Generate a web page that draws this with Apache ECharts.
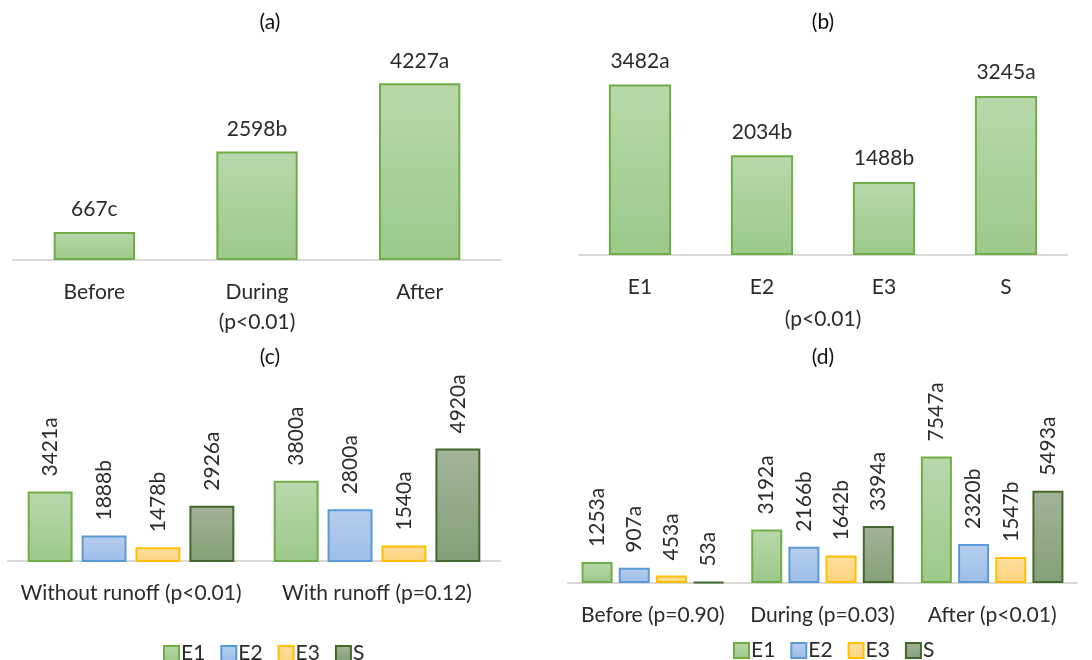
<!DOCTYPE html>
<html>
<head>
<meta charset="utf-8">
<script src="https://cdn.jsdelivr.net/npm/echarts@6/dist/echarts.min.js"></script>
<style>
  html, body { margin: 0; padding: 0; background: #fff; }
  #chart { width: 1092px; height: 660px; }
</style>
</head>
<body>
<div id="chart"></div>
<script>
// (a) period totals
var periods = ["Before", "During\n(p<0.01)", "After"];
var periodValues = [667, 2598, 4227];
var periodLetters = ["c", "b", "a"];

// (b) treatment totals
var treatments = ["E1", "E2", "E3", "S"];
var treatmentValues = [3482, 2034, 1488, 3245];
var treatmentLetters = ["a", "b", "b", "a"];

// (c) runoff / no runoff, per treatment
var runoffCats = ["Without runoff (p<0.01)", "With runoff (p=0.12)"];
var runoffE1 = [3421, 3800];
var runoffE2 = [1888, 2800];
var runoffE3 = [1478, 1540];
var runoffS = [2926, 4920];
var runoffLetters = { E1: ["a", "a"], E2: ["b", "a"], E3: ["b", "a"], S: ["a", "a"] };

// (d) period, per treatment
var phaseCats = ["Before (p=0.90)", "During (p=0.03)", "After (p<0.01)"];
var phaseE1 = [1253, 3192, 7547];
var phaseE2 = [907, 2166, 2320];
var phaseE3 = [453, 1642, 1547];
var phaseS = [53, 3394, 5493];
var phaseLetters = { E1: ["a", "a", "a"], E2: ["a", "b", "b"], E3: ["a", "b", "b"], S: ["a", "a", "a"] };

var FONT = "Lato, 'Open Sans', sans-serif";
var FS = 21;
var TXT = "#2b2b2b";

function grad(top, bottom) {
    return new echarts.graphic.LinearGradient(0, 0, 0, 1, [
        { offset: 0, color: top },
        { offset: 1, color: bottom }
    ]);
}

var look = {
    E1: { color: grad("#b9d8ab", "#9cc98a"), borderColor: "#70ad47" },
    E2: { color: grad("#b7cfee", "#9dbde8"), borderColor: "#5b9bd5" },
    E3: { color: grad("#ffe0a0", "#ffd47c"), borderColor: "#ffc000" },
    S:  { color: grad("#a3b39a", "#84a078"), borderColor: "#43682b" }
};

function barStyle(key) {
    return { color: look[key].color, borderColor: look[key].borderColor, borderWidth: 2 };
}

function xAxisFor(idx, cats) {
    return {
        type: "category", gridIndex: idx, data: cats,
        axisLine: { lineStyle: { color: "#d9d9d9", width: 2 } },
        axisTick: { show: false },
        axisLabel: { color: TXT, fontSize: FS, fontFamily: FONT, margin: 17, lineHeight: 30, interval: 0 }
    };
}

function yAxisFor(idx, min, max) {
    return { type: "value", gridIndex: idx, min: min, max: max, show: false, splitLine: { show: false } };
}

function flatLabel(letters, dist) {
    return {
        show: true, position: "top", distance: dist,
        color: TXT, fontSize: FS, fontFamily: FONT,
        formatter: function (p) { return p.value + letters[p.dataIndex]; }
    };
}

function upLabel(letters) {
    return {
        show: true, position: "top", distance: 15, rotate: 90,
        align: "left", verticalAlign: "middle",
        color: TXT, fontSize: FS, fontFamily: FONT,
        formatter: function (p) { return p.value + letters[p.dataIndex]; }
    };
}

function groupSeries(axisIdx, key, values, letters) {
    return {
        name: key, type: "bar", xAxisIndex: axisIdx, yAxisIndex: axisIdx,
        data: values, barGap: "20%", barCategoryGap: "16%",
        itemStyle: barStyle(key), label: upLabel(letters[key]),
        emphasis: { disabled: true }
    };
}

var chart = echarts.init(document.getElementById("chart"), null, { renderer: "canvas" });

var titleStyle = { color: "#111", fontSize: FS, fontFamily: FONT, fontWeight: "normal" };
var legendText = { color: TXT, fontSize: FS, fontFamily: FONT, padding: [0, 0, 0, -3] };

chart.setOption({
    backgroundColor: "#fff",
    animation: false,
    title: [
        { text: "(a)", left: 270, top: 12, textAlign: "center", padding: 0, textStyle: titleStyle },
        { text: "(b)", left: 823, top: 12, textAlign: "center", padding: 0, textStyle: titleStyle },
        { text: "(c)", left: 270, top: 347, textAlign: "center", padding: 0, textStyle: titleStyle },
        { text: "(d)", left: 823, top: 347, textAlign: "center", padding: 0, textStyle: titleStyle }
    ],
    legend: [
        {
            left: 158, top: 638, itemWidth: 15, itemHeight: 15, itemGap: 15, icon: "rect",
            data: treatments, textStyle: legendText
        },
        {
            left: 728, top: 635, itemWidth: 15, itemHeight: 15, itemGap: 15, icon: "rect",
            data: treatments, textStyle: legendText
        }
    ],
    grid: [
        { left: 13, width: 488, top: 51, height: 209 },
        { left: 579, width: 488, top: 59, height: 196 },
        { left: 8, width: 492, top: 417.5, height: 143.5 },
        { left: 568, width: 509, top: 432, height: 151 }
    ],
    xAxis: [
        xAxisFor(0, periods),
        Object.assign(xAxisFor(1, treatments), {
            name: "(p<0.01)", nameLocation: "middle", nameGap: 54,
            nameTextStyle: { color: TXT, fontSize: FS, fontFamily: FONT }
        }),
        xAxisFor(2, runoffCats),
        xAxisFor(3, phaseCats)
    ],
    yAxis: [
        yAxisFor(0, 0, 5000),
        yAxisFor(1, 0, 4000),
        yAxisFor(2, 1000, 6000),
        yAxisFor(3, 0, 9000)
    ],
    series: [
        {
            type: "bar", xAxisIndex: 0, yAxisIndex: 0, data: periodValues, barWidth: "50%",
            itemStyle: barStyle("E1"), label: flatLabel(periodLetters, 12), emphasis: { disabled: true }
        },
        {
            type: "bar", xAxisIndex: 1, yAxisIndex: 1, data: treatmentValues, barWidth: "51%",
            itemStyle: barStyle("E1"), label: flatLabel(treatmentLetters, 13), emphasis: { disabled: true }
        },
        groupSeries(2, "E1", runoffE1, runoffLetters),
        groupSeries(2, "E2", runoffE2, runoffLetters),
        groupSeries(2, "E3", runoffE3, runoffLetters),
        groupSeries(2, "S", runoffS, runoffLetters),
        groupSeries(3, "E1", phaseE1, phaseLetters),
        groupSeries(3, "E2", phaseE2, phaseLetters),
        groupSeries(3, "E3", phaseE3, phaseLetters),
        groupSeries(3, "S", phaseS, phaseLetters)
    ]
});
</script>
</body>
</html>
